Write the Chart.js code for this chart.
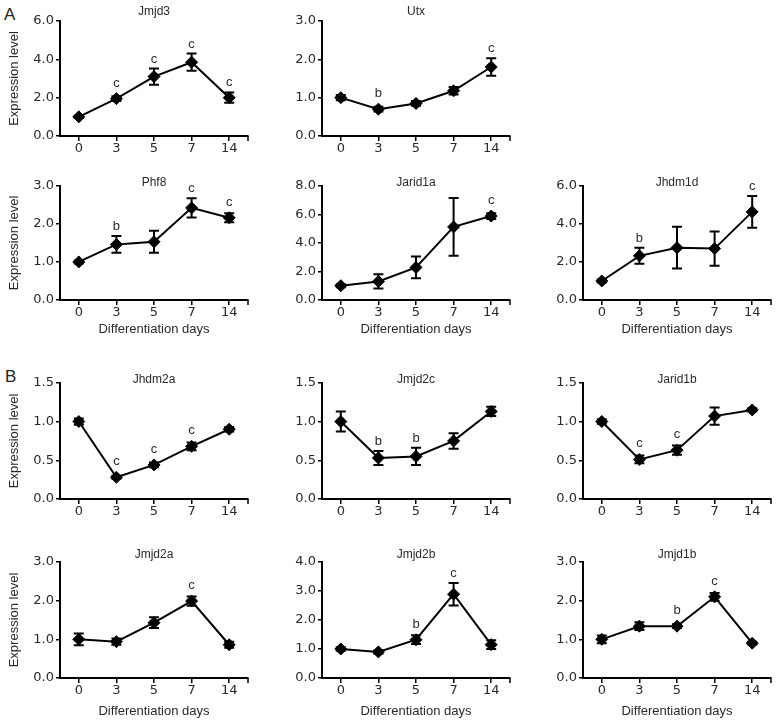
<!DOCTYPE html>
<html><head><meta charset="utf-8">
<script src="https://cdn.jsdelivr.net/npm/chart.js@4.4.1/dist/chart.umd.min.js"></script>
<style>
html,body{margin:0;padding:0;background:#fff;width:777px;height:722px;overflow:hidden;position:relative}
canvas{position:absolute}
.lab{position:absolute;font:17px "Liberation Sans",Arial,sans-serif;color:#222;line-height:17px}
</style></head><body>
<div class="lab" style="left:4px;top:6px">A</div>
<div class="lab" style="left:5px;top:368px">B</div>
<script>
// ---- data ----
const days = ['0','3','5','7','14'];

const jmjd3Mean = [1.0, 1.95, 3.1, 3.85, 2.0];
const jmjd3Err  = [0.06, 0.12, 0.42, 0.45, 0.27];
const jmjd3Sig  = ['', 'c', 'c', 'c', 'c'];

const utxMean = [1.0, 0.7, 0.85, 1.18, 1.8];
const utxErr  = [0.07, 0.06, 0.06, 0.1, 0.23];
const utxSig  = ['', 'b', '', '', 'c'];

const phf8Mean = [1.0, 1.46, 1.53, 2.42, 2.16];
const phf8Err  = [0.04, 0.22, 0.29, 0.25, 0.12];
const phf8Sig  = ['', 'b', '', 'c', 'c'];

const jarid1aMean = [1.0, 1.3, 2.28, 5.12, 5.88];
const jarid1aErr  = [0.1, 0.5, 0.76, 2.02, 0.2];
const jarid1aSig  = ['', '', '', '', 'c'];

const jhdm1dMean = [1.0, 2.32, 2.75, 2.7, 4.63];
const jhdm1dErr  = [0.08, 0.42, 1.1, 0.9, 0.83];
const jhdm1dSig  = ['', 'b', '', '', 'c'];

const jhdm2aMean = [1.0, 0.28, 0.44, 0.68, 0.9];
const jhdm2aErr  = [0.04, 0.02, 0.03, 0.05, 0.03];
const jhdm2aSig  = ['', 'c', 'c', 'c', ''];

const jmjd2cMean = [1.0, 0.53, 0.55, 0.75, 1.13];
const jmjd2cErr  = [0.13, 0.09, 0.11, 0.1, 0.06];
const jmjd2cSig  = ['', 'b', 'b', '', ''];

const jarid1bMean = [1.0, 0.51, 0.63, 1.07, 1.15];
const jarid1bErr  = [0.03, 0.05, 0.06, 0.11, 0.02];
const jarid1bSig  = ['', 'c', 'c', '', ''];

const jmjd2aMean = [1.0, 0.94, 1.43, 1.99, 0.86];
const jmjd2aErr  = [0.15, 0.08, 0.14, 0.12, 0.08];
const jmjd2aSig  = ['', '', '', 'c', ''];

const jmjd2bMean = [1.0, 0.9, 1.32, 2.89, 1.15];
const jmjd2bErr  = [0.06, 0.06, 0.15, 0.39, 0.15];
const jmjd2bSig  = ['', '', 'b', 'c', ''];

const jmjd1bMean = [1.0, 1.34, 1.34, 2.1, 0.9];
const jmjd1bErr  = [0.1, 0.1, 0.05, 0.1, 0.04];
const jmjd1bSig  = ['', '', 'b', 'c', ''];

const yTitle = 'Expression level';
const xTitle = 'Differentiation days';

const panels = [
  {name:'Jmjd3',   mean:jmjd3Mean,   err:jmjd3Err,   sig:jmjd3Sig,   yMax:6,   step:2,   row:0, col:0},
  {name:'Utx',     mean:utxMean,     err:utxErr,     sig:utxSig,     yMax:3,   step:1,   row:0, col:1},
  {name:'Phf8',    mean:phf8Mean,    err:phf8Err,    sig:phf8Sig,    yMax:3,   step:1,   row:1, col:0},
  {name:'Jarid1a', mean:jarid1aMean, err:jarid1aErr, sig:jarid1aSig, yMax:8,   step:2,   row:1, col:1},
  {name:'Jhdm1d',  mean:jhdm1dMean,  err:jhdm1dErr,  sig:jhdm1dSig,  yMax:6,   step:2,   row:1, col:2},
  {name:'Jhdm2a',  mean:jhdm2aMean,  err:jhdm2aErr,  sig:jhdm2aSig,  yMax:1.5, step:0.5, row:2, col:0},
  {name:'Jmjd2c',  mean:jmjd2cMean,  err:jmjd2cErr,  sig:jmjd2cSig,  yMax:1.5, step:0.5, row:2, col:1},
  {name:'Jarid1b', mean:jarid1bMean, err:jarid1bErr, sig:jarid1bSig, yMax:1.5, step:0.5, row:2, col:2},
  {name:'Jmjd2a',  mean:jmjd2aMean,  err:jmjd2aErr,  sig:jmjd2aSig,  yMax:3,   step:1,   row:3, col:0},
  {name:'Jmjd2b',  mean:jmjd2bMean,  err:jmjd2bErr,  sig:jmjd2bSig,  yMax:4,   step:1,   row:3, col:1},
  {name:'Jmjd1b',  mean:jmjd1bMean,  err:jmjd1bErr,  sig:jmjd1bSig,  yMax:3,   step:1,   row:3, col:2}
];

// ---- layout ----
const colLeft = [60, 322, 583];
const plotW = 188;
const rowTop = [21, 186, 383, 562];
const rowH = [115, 114, 116, 116];
const rowTitlePad = [3, -3, -3, 1];
const rowHasXTitle = [false, true, false, true];
const rowXTitlePad = [0, 7, 0, 3];

const TICK_FONT = {family:'"DejaVu Sans", sans-serif', size:13};
const TEXT_FONT = '"Liberation Sans", Arial, sans-serif';
const TEXT_COLOR = '#2a2a2a';

function makeErrPlugin(p) {
  return {
    id: 'errBars_' + p.name,
    afterDatasetsDraw(chart) {
      const {ctx, scales:{x, y}, chartArea} = chart;
      ctx.save();
      ctx.strokeStyle = '#000';
      ctx.lineWidth = 2;
      ctx.beginPath();
      p.mean.forEach((m, i) => {
        const px = x.getPixelForValue(i);
        const t = y.getPixelForValue(m + p.err[i]);
        const b = y.getPixelForValue(m - p.err[i]);
        ctx.moveTo(px, t); ctx.lineTo(px, b);
        ctx.moveTo(px - 5, t); ctx.lineTo(px + 5, t);
        ctx.moveTo(px - 5, b); ctx.lineTo(px + 5, b);
      });
      ctx.stroke();
      // end tick on x axis
      ctx.lineWidth = 1.5;
      ctx.beginPath();
      ctx.moveTo(chartArea.right, chartArea.bottom);
      ctx.lineTo(chartArea.right, chartArea.bottom + 5);
      ctx.stroke();
      // significance letters
      ctx.fillStyle = TEXT_COLOR;
      ctx.font = '13px ' + TEXT_FONT;
      ctx.textAlign = 'center';
      ctx.textBaseline = 'alphabetic';
      p.sig.forEach((s, i) => {
        if (!s) return;
        const px = x.getPixelForValue(i);
        const t = Math.min(y.getPixelForValue(p.mean[i] + p.err[i]), y.getPixelForValue(p.mean[i]) - 6);
        ctx.fillText(s, px, t - 6);
      });
      ctx.restore();
    }
  };
}

function build(p) {
  const cv = document.createElement('canvas');
  cv.width = 280; cv.height = 200;
  cv.style.width = '280px'; cv.style.height = '200px';
  document.body.appendChild(cv);
  const hasY = p.col === 0;
  const hasX = rowHasXTitle[p.row];
  const chart = new Chart(cv, {
    type: 'line',
    data: {
      labels: days,
      datasets: [{
        data: p.mean,
        borderColor: '#000',
        borderWidth: 2,
        backgroundColor: '#000',
        pointStyle: 'rectRot',
        pointRadius: 6,
        pointBackgroundColor: '#000',
        pointBorderColor: '#000',
        pointBorderWidth: 1,
        tension: 0,
        fill: false,
        clip: false
      }]
    },
    options: {
      responsive: false,
      maintainAspectRatio: false,
      animation: false,
      devicePixelRatio: 1,
      events: [],
      layout: {padding: {left: 0, right: 6, top: 0, bottom: 0}},
      plugins: {
        legend: {display: false},
        tooltip: {enabled: false},
        title: {
          display: true,
          text: p.name,
          fullSize: false,
          color: TEXT_COLOR,
          font: {family: TEXT_FONT, size: 12, lineHeight: 1, weight: 'normal'},
          padding: {top: 0, bottom: rowTitlePad[p.row]}
        }
      },
      scales: {
        x: {
          type: 'category',
          offset: true,
          border: {display: true, color: '#000', width: 2},
          grid: {display: true, drawOnChartArea: false, drawTicks: true, tickLength: 5, color: '#000', lineWidth: 1.5, offset: false},
          ticks: {color: TEXT_COLOR, font: TICK_FONT, padding: 0, maxRotation: 0, autoSkip: false},
          title: {display: hasX, text: xTitle, color: TEXT_COLOR, font: {family: TEXT_FONT, size: 13}, padding: {top: 0, bottom: rowXTitlePad[p.row]}},
          afterFit: s => { s.height = hasX ? 44 : 24; }
        },
        y: {
          min: 0, max: p.yMax,
          border: {display: true, color: '#000', width: 2},
          grid: {display: true, drawOnChartArea: false, drawTicks: true, tickLength: 4, color: '#000', lineWidth: 1.5},
          ticks: {stepSize: p.step, color: TEXT_COLOR, font: TICK_FONT, padding: 2, callback: v => Number(v).toFixed(1)},
          title: {display: hasY, text: yTitle, color: TEXT_COLOR, font: {family: TEXT_FONT, size: 13}, padding: {top: 7, bottom: 0}},
          afterFit: s => { s.width = 60; }
        }
      }
    },
    plugins: [makeErrPlugin(p)]
  });
  // size & place so the plot area lands where the reference has it
  const w = plotW, h = rowH[p.row];
  for (let k = 0; k < 6; k++) {
    const ca = chart.chartArea;
    const dw = w - (ca.right - ca.left), dh = h - (ca.bottom - ca.top);
    if (Math.abs(dw) < 0.5 && Math.abs(dh) < 0.5) break;
    const nw = Math.round(chart.width + dw), nh = Math.round(chart.height + dh);
    cv.style.width = nw + 'px'; cv.style.height = nh + 'px';
    chart.resize(nw, nh);
  }
  const ca = chart.chartArea;
  cv.style.left = (colLeft[p.col] - ca.left) + 'px';
  cv.style.top = (rowTop[p.row] - ca.top) + 'px';
}

panels.forEach(build);
</script>
</body></html>
